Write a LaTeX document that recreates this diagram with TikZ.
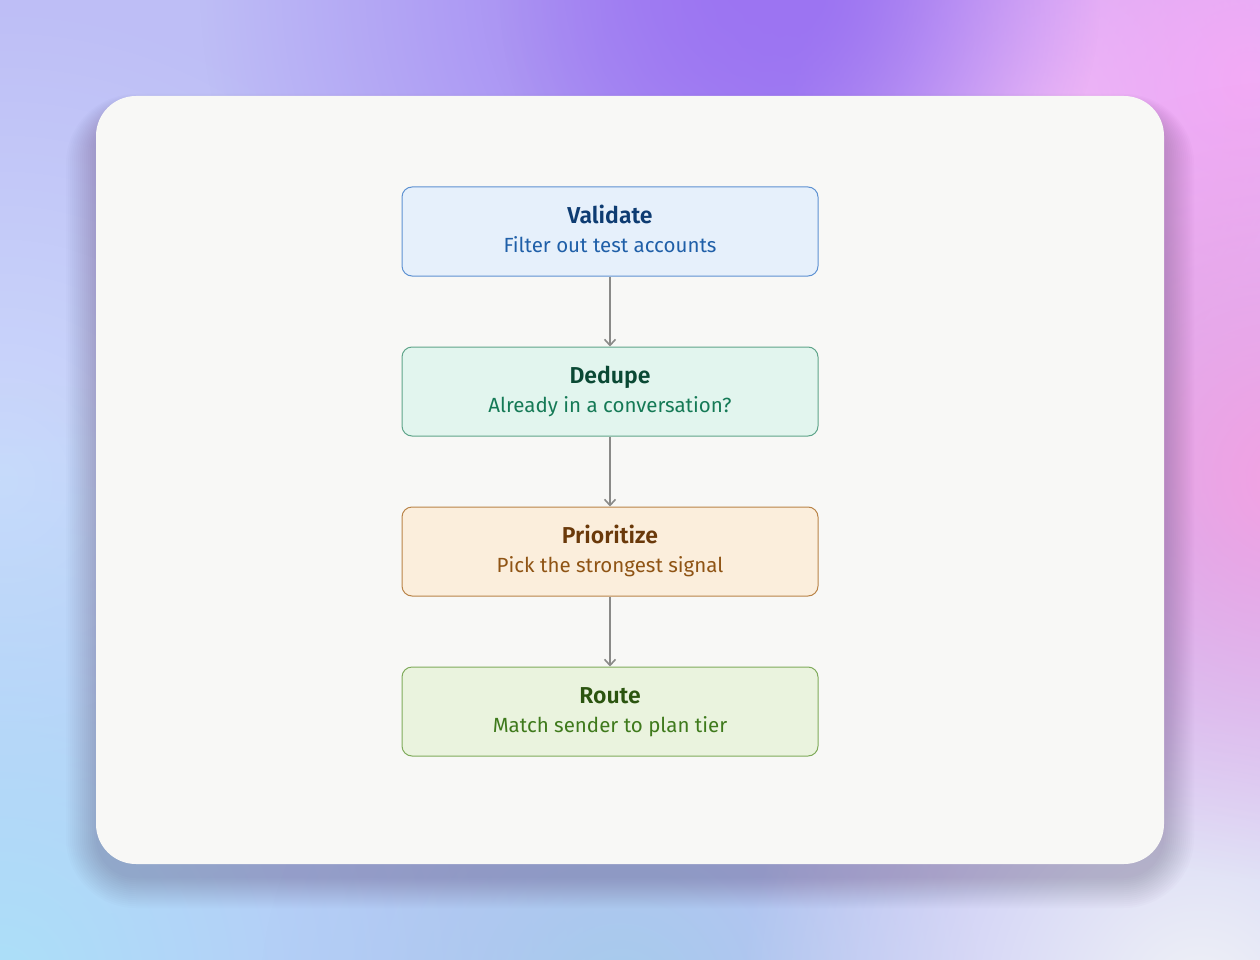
\documentclass[tikz,border=0pt]{standalone}
\usepackage{fontspec}
\setmainfont{Fira Sans}[BoldFont={Fira Sans SemiBold}]
\usetikzlibrary{arrows.meta,fadings}
\tikzfading[name=blobfade, inner color=transparent!0, outer color=transparent!100]
\definecolor{bgbase}{HTML}{BEBEF6}
\definecolor{blobpurple}{HTML}{9C74F2}
\definecolor{blobpink}{HTML}{F4AAF6}
\definecolor{blobmag}{HTML}{F4A0E2}
\definecolor{blobblue}{HTML}{ACE0F9}
\definecolor{blobblue2}{HTML}{A6CCEC}
\definecolor{blobwhite}{HTML}{F0F2F6}
\definecolor{bloblav}{HTML}{CCDAFC}
\definecolor{blobhaze}{HTML}{E8CCF8}
\definecolor{cardfill}{HTML}{F8F8F6}
\definecolor{shadowcol}{HTML}{3A2050}
\definecolor{vfill}{HTML}{E6F0FB}\definecolor{vline}{HTML}{5E92D2}\definecolor{vtitle}{HTML}{0E3C72}\definecolor{vsub}{HTML}{1F5FA8}
\definecolor{dfill}{HTML}{E2F5EE}\definecolor{dline}{HTML}{5FA58A}\definecolor{dtitle}{HTML}{0A4934}\definecolor{dsub}{HTML}{157A56}
\definecolor{pfill}{HTML}{FBEEDC}\definecolor{pline}{HTML}{B98448}\definecolor{ptitle}{HTML}{6A390A}\definecolor{psub}{HTML}{8F5414}
\definecolor{rfill}{HTML}{EAF3DE}\definecolor{rline}{HTML}{7FAB5B}\definecolor{rtitle}{HTML}{2B540F}\definecolor{rsub}{HTML}{3F7A1C}
\definecolor{arrowgray}{HTML}{8A8A88}
\tikzset{
  stepbox/.style={draw=#1line, fill=#1fill, line width=1pt, rounded corners=10pt,
    minimum width=416pt, minimum height=89pt, inner sep=0pt, align=center,
    font=\fontsize{20.5}{29}\selectfont},
  flow/.style={draw=arrowgray, line width=2pt, -{Straight Barb[length=6pt,width=11pt,line width=1.6pt]}},
  blob/.style={fill=#1, path fading=blobfade}
}
\newcommand{\boxtext}[3]{{\color{#1title}\fontsize{23}{29}\selectfont\bfseries\rule{0pt}{18pt}#2}\\{\color{#1sub}#3\rule[-6pt]{0pt}{6pt}}}
\begin{document}
\begin{tikzpicture}[x=1pt,y=-1pt]
\useasboundingbox (0,0) rectangle (1260,960);
% background
\fill[bgbase] (0,0) rectangle (1260,960);
\begin{scope}
\clip (0,0) rectangle (1260,960);
\fill[blob=bloblav] (0,480) circle (480);
\fill[blob=blobblue] (0,980) circle (600);
\fill[blob=blobblue2] (620,1000) circle (360);
\fill[blob=blobwhite] (1200,1000) circle (460);
\fill[blob=blobpurple] (760,-20) circle (560);
\fill[blob=blobhaze] (1050,120) circle (260);
\fill[blob=blobpink] (1250,80) circle (460);
\fill[blob=blobmag] (1290,480) circle (400);
\fill[blob=blobpurple] (800,0) circle (300);
\end{scope}
% card shadow (stacked soft layers)
\foreach \k in {0,2,...,30}{
  \fill[shadowcol, opacity=0.016, rounded corners={40pt+\k pt}]
    (96-\k,112-0.6*\k) rectangle (1164+\k,878+\k);
}
% card
\path[fill=cardfill, rounded corners=40pt] (96,96) rectangle (1164,864);
% steps
\node[stepbox=v] (validate) at (610,231.5) {\boxtext{v}{Validate}{Filter out test accounts}};
\node[stepbox=d] (dedupe) at (610,391.5) {\boxtext{d}{Dedupe}{Already in a conversation?}};
\node[stepbox=p] (prioritize) at (610,551.5) {\boxtext{p}{Prioritize}{Pick the strongest signal}};
\node[stepbox=r] (route) at (610,711.5) {\boxtext{r}{Route}{Match sender to plan tier}};
% connectors
\draw[flow] (validate.south) -- (dedupe.north);
\draw[flow] (dedupe.south) -- (prioritize.north);
\draw[flow] (prioritize.south) -- (route.north);
\end{tikzpicture}
\end{document}
